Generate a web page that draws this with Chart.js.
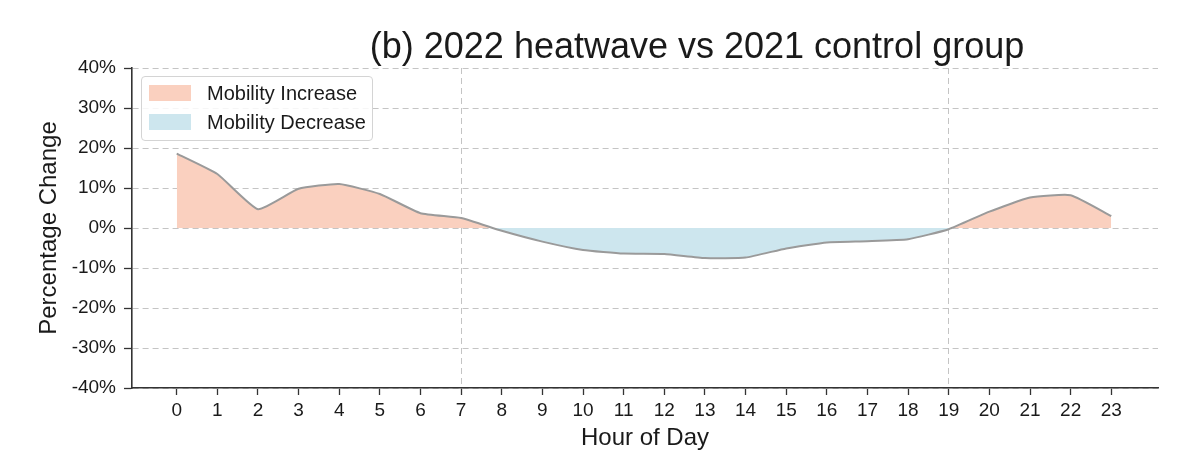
<!DOCTYPE html>
<html>
<head>
<meta charset="utf-8">
<script src="https://cdn.jsdelivr.net/npm/chart.js@4.4.0/dist/chart.umd.min.js"></script>
<style>
  html, body { margin:0; padding:0; background:#fff; }
  #wrap { position:relative; width:1200px; height:469px; font-family:"Liberation Sans", Arial, sans-serif; color:#1a1a1a; }
  #title { position:absolute; top:24px; left:697px; transform:translateX(-50%); font-size:36px; line-height:44px; white-space:nowrap; }
  #legend { position:absolute; left:141px; top:76px; width:232px; height:65px; border:1px solid #d4d4d4; border-radius:4px; background:rgba(255,255,255,0.85); box-sizing:border-box; }
  .item { position:absolute; left:7px; height:18px; display:flex; align-items:center; font-size:20px; }
  .swatch { width:42px; height:16px; margin-right:16px; }
</style>
</head>
<body>
<div id="wrap">
  <canvas id="chart" width="1200" height="469"></canvas>
  <div id="title">(b) 2022 heatwave vs 2021 control group</div>
  <div id="legend"></div>
</div>
<script>
// hour of day
const hours = [0,1,2,3,4,5,6,7,8,9,10,11,12,13,14,15,16,17,18,19,20,21,22,23];
// percentage change
const change = [18.6,13.5,4.7,9.8,11.0,8.5,3.7,2.5,-0.7,-3.4,-5.5,-6.4,-6.5,-7.5,-7.4,-5.1,-3.6,-3.3,-2.8,-0.3,4.1,7.6,8.2,3.0];
const yTicks = [-40,-30,-20,-10,0,10,20,30,40];
const markedHours = [7,19];

const incColor = '#fad0bf';
const decColor = '#cde6ee';
const legendItems = [
  { label:'Mobility Increase', color:incColor },
  { label:'Mobility Decrease', color:decColor }
];

// legend
const legendEl = document.getElementById('legend');
legendItems.forEach((it, i) => {
  const d = document.createElement('div');
  d.className = 'item';
  d.style.top = (i === 0 ? 7 : 36) + 'px';
  d.innerHTML = `<span class="swatch" style="background:${it.color}"></span><span>${it.label}</span>`;
  legendEl.appendChild(d);
});

const tickFont = { family:'"Liberation Sans", Arial, sans-serif', size:19 };
const titleFont = { family:'"Liberation Sans", Arial, sans-serif', size:24 };

new Chart(document.getElementById('chart'), {
  type: 'line',
  data: {
    datasets: [{
      label: 'Percentage Change',
      data: hours.map((h, i) => ({ x:h, y:change[i] })),
      borderColor: '#9a9a9a',
      borderWidth: 2,
      pointRadius: 0,
      tension: 0.15,
      fill: { target: { value: 0 }, above: incColor, below: decColor }
    }]
  },
  options: {
    responsive: false,
    animation: false,
    layout: { padding: { left:35, right:42, top:68, bottom:0 } },
    plugins: { legend: { display:false }, tooltip: { enabled:false } },
    scales: {
      x: {
        type: 'linear',
        min: -1.1,
        max: 24.15,
        afterBuildTicks: s => { s.ticks = hours.map(v => ({ value:v })); },
        afterFit: s => { s.height = 81; },
        ticks: { font: tickFont, color:'#1a1a1a', padding:4, maxRotation:0, autoSkip:false, callback: v => String(v) },
        grid: {
          color: c => (c.tick && markedHours.includes(c.tick.value)) ? '#c4c4c4' : 'rgba(0,0,0,0)',
          lineWidth: 1,
          tickColor: '#333',
          tickWidth: 1.3,
          tickLength: 7,
          tickBorderDash: []
        },
        border: { display:true, color:'#333', width:1.6, dash:[6,4] },
        title: { display:true, text:'Hour of Day', font:titleFont, color:'#1a1a1a', padding:{ top:0, bottom:16 } }
      },
      y: {
        min: -40,
        max: 40,
        afterBuildTicks: s => { s.ticks = yTicks.map(v => ({ value:v })); },
        afterFit: s => { s.width = 97; },
        ticks: { font: tickFont, color:'#1a1a1a', padding:8, callback: v => v + '%' },
        grid: {
          color: '#c4c4c4',
          lineWidth: 1,
          tickColor: '#333',
          tickWidth: 1.3,
          tickLength: 8,
          tickBorderDash: []
        },
        border: { display:true, color:'#333', width:1.6, dash:[6,4] },
        title: { display:true, text:'Percentage Change', font:titleFont, color:'#1a1a1a', padding:{ top:0, bottom:0 } }
      }
    }
  }
});
</script>
</body>
</html>
